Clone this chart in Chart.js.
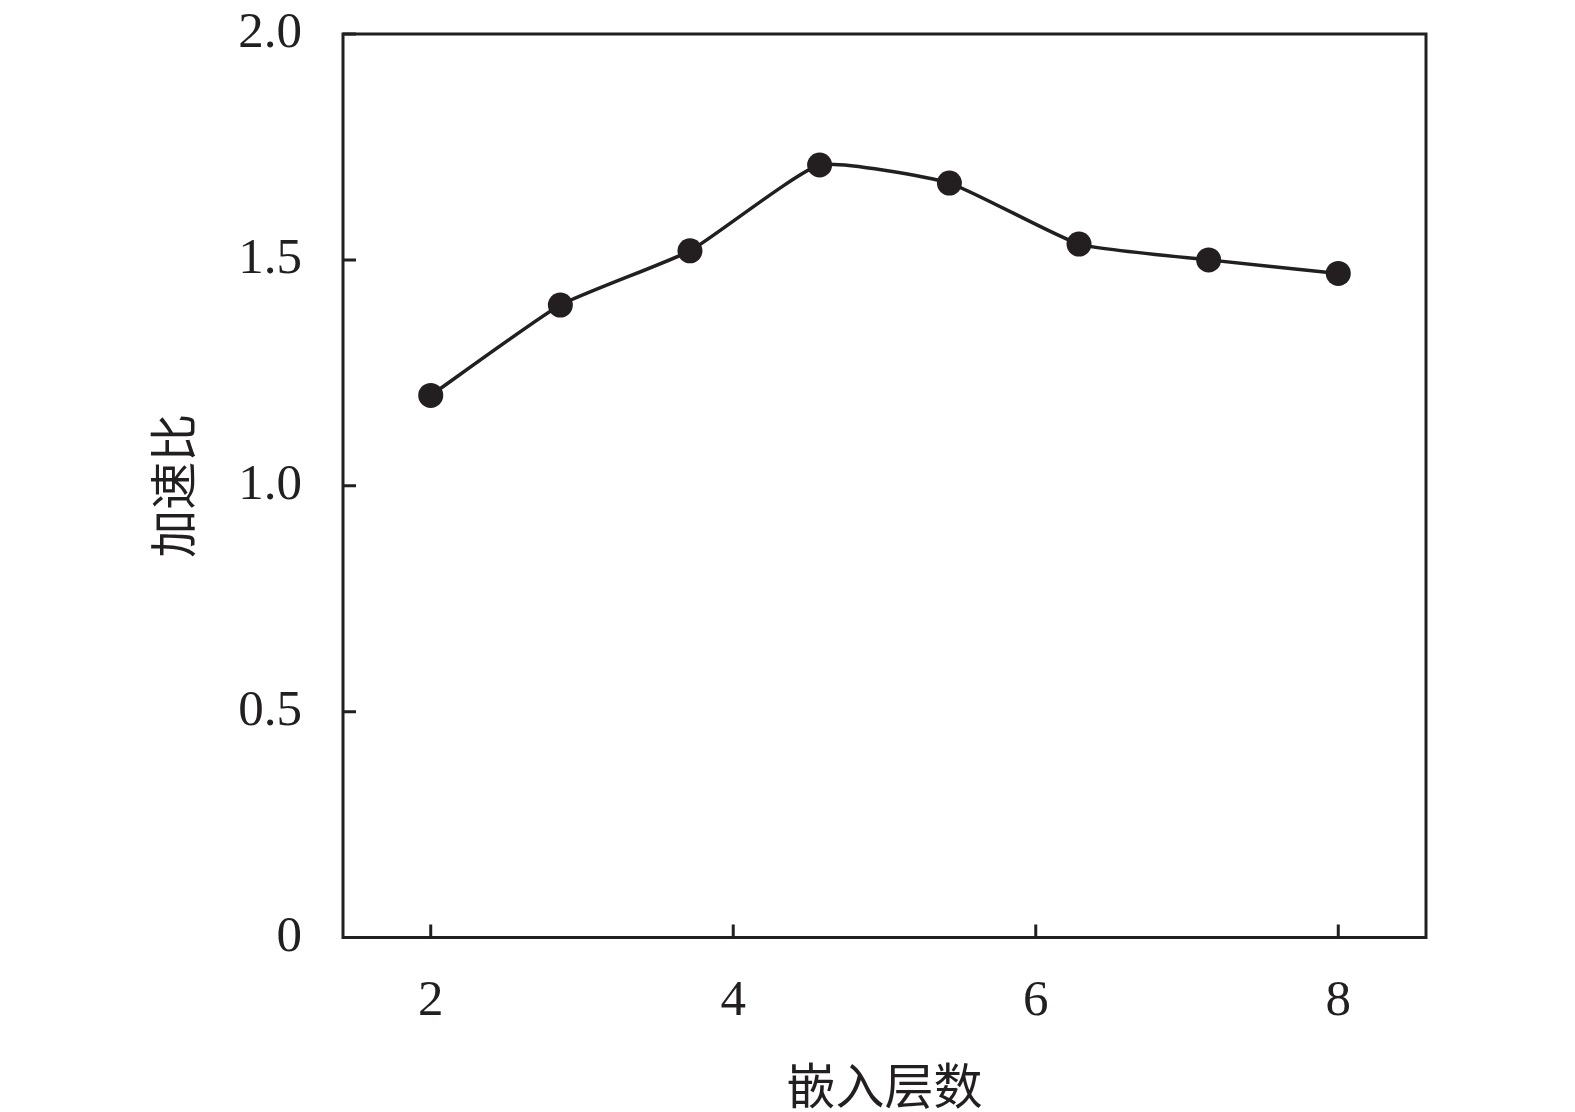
<!DOCTYPE html>
<html>
<head>
    <title>加速比</title>
    <meta charset="utf-8">
    <style>
        html, body { margin: 0; padding: 0; background: #fff; }
        canvas { display: block; }
    </style>
    <script src="https://cdn.jsdelivr.net/npm/chart.js"></script>
</head>
<body>
    <canvas id="speedupChart" width="1575" height="1112"></canvas>
    <script>
        // values
        const layers = [2, 2.857, 3.714, 4.571, 5.429, 6.286, 7.143, 8];
        const speedup = [1.20, 1.40, 1.52, 1.71, 1.67, 1.535, 1.50, 1.47];
        const xTicks = [2, 4, 6, 8];
        const yTicks = [0, 0.5, 1.0, 1.5, 2.0];

        const ink = '#231f20';
        const serif = "'Liberation Serif', 'Times New Roman', serif";
        const cjk = "'Noto Sans CJK SC', sans-serif";

        // box round the plot area plus short inward tick marks
        const frame = {
            id: 'frame',
            afterDraw(chart) {
                const { ctx, chartArea: a, scales } = chart;
                ctx.save();
                ctx.strokeStyle = ink;
                ctx.lineWidth = 3;
                ctx.strokeRect(a.left, a.top, a.right - a.left, a.bottom - a.top);
                ctx.beginPath();
                xTicks.forEach(v => {
                    const x = scales.x.getPixelForValue(v);
                    ctx.moveTo(x, a.bottom);
                    ctx.lineTo(x, a.bottom - 13);
                });
                yTicks.forEach(v => {
                    const y = scales.y.getPixelForValue(v);
                    ctx.moveTo(a.left, y);
                    ctx.lineTo(a.left + 13, y);
                });
                ctx.stroke();
                ctx.restore();
            }
        };

        new Chart(document.getElementById('speedupChart'), {
            type: 'line',
            data: {
                datasets: [{
                    data: layers.map((x, i) => ({ x: x, y: speedup[i] })),
                    borderColor: ink,
                    borderWidth: 3.5,
                    tension: 0.15,
                    pointRadius: 12.5,
                    pointBorderWidth: 0,
                    pointBackgroundColor: ink,
                    clip: false
                }]
            },
            options: {
                responsive: false,
                animation: false,
                layout: { padding: { left: 0, right: 149, top: 34, bottom: 0 } },
                plugins: {
                    legend: { display: false },
                    tooltip: { enabled: false }
                },
                scales: {
                    x: {
                        type: 'linear',
                        min: 1.42,
                        max: 8.58,
                        afterBuildTicks: s => { s.ticks = xTicks.map(v => ({ value: v })); },
                        afterFit: s => {
                            s.height = 174.5;
                            s.paddingLeft = 0;
                            s.paddingRight = 0;
                        },
                        grid: { display: false, drawTicks: false },
                        border: { display: false },
                        ticks: {
                            color: ink,
                            padding: 34,
                            maxRotation: 0,
                            font: { family: serif, size: 51 }
                        },
                        title: {
                            display: true,
                            text: '嵌入层数',
                            color: ink,
                            padding: { top: 0, bottom: 0 },
                            font: { family: cjk, size: 49, lineHeight: 1.1 }
                        }
                    },
                    y: {
                        min: 0,
                        max: 2,
                        afterBuildTicks: s => { s.ticks = yTicks.map(v => ({ value: v })); },
                        afterFit: s => {
                            s.width = 343;
                            s.paddingTop = 0;
                            s.paddingBottom = 0;
                        },
                        grid: { display: false, drawTicks: false },
                        border: { display: false },
                        ticks: {
                            color: ink,
                            padding: 41,
                            callback: v => v === 0 ? '0' : v.toFixed(1),
                            font: { family: serif, size: 51 }
                        },
                        title: {
                            display: true,
                            text: '加速比',
                            color: ink,
                            padding: { top: 144, bottom: 0 },
                            font: { family: cjk, size: 48, lineHeight: 1.2 }
                        }
                    }
                }
            },
            plugins: [frame]
        });
    </script>
</body>
</html>
